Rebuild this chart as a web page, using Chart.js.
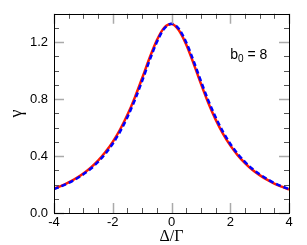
<!DOCTYPE html>
<html><head><meta charset="utf-8">
<script src="https://cdn.jsdelivr.net/npm/chart.js@4.4.0/dist/chart.umd.min.js"></script>
<style>html,body{margin:0;padding:0;background:#fff;}</style>
</head><body>
<canvas id="c" width="307" height="245"></canvas>
<script>
const xValues = [-4,-3.75,-3.5,-3.25,-3,-2.75,-2.5,-2.25,-2,-1.75,-1.5,-1.25,-1,-0.75,-0.5,-0.25,0,0.25,0.5,0.75,1,1.25,1.5,1.75,2,2.25,2.5,2.75,3,3.25,3.5,3.75,4];
const redValues = [0.171,0.191,0.215,0.244,0.278,0.319,0.368,0.428,0.500,0.587,0.690,0.811,0.947,1.088,1.214,1.302,1.328,1.285,1.185,1.052,0.909,0.775,0.658,0.558,0.475,0.407,0.351,0.304,0.266,0.234,0.207,0.185,0.165];
const blueValues = [0.168,0.188,0.211,0.239,0.272,0.311,0.359,0.417,0.487,0.572,0.674,0.793,0.928,1.070,1.200,1.295,1.330,1.295,1.200,1.070,0.928,0.793,0.674,0.572,0.487,0.417,0.359,0.311,0.272,0.239,0.211,0.188,0.168];
const xTicks = [-4,-2,0,2,4];
const yTicks = [0,0.4,0.8,1.2];
const xMinorTicks = [-3.5,-3,-2.5,-1.5,-1,-0.5,0.5,1,1.5,2.5,3,3.5];
const yMinorTicks = [0.1,0.2,0.3,0.5,0.6,0.7,0.9,1.0,1.1,1.3];
const annotation = {x: 2.0, y: 1.08, base: 'b', sub: '0', rest: ' = 8'};

const toPts = ys => xValues.map((x,i)=>({x, y: ys[i]}));

const framePlugin = {
  id: 'frame',
  afterDatasetsDraw(chart) {
    const ctx = chart.ctx;
    const {left,right,top,bottom} = chart.chartArea;
    const xs = chart.scales.x, ys = chart.scales.y;
    ctx.save();
    ctx.lineWidth = 1;
    ctx.strokeStyle = '#555';
    ctx.beginPath();
    xMinorTicks.forEach(v => {
      const p = Math.round(xs.getPixelForValue(v)) + 0.5;
      ctx.moveTo(p, bottom); ctx.lineTo(p, bottom - 5);
      ctx.moveTo(p, top); ctx.lineTo(p, top + 5);
    });
    yMinorTicks.forEach(v => {
      const p = Math.round(ys.getPixelForValue(v)) + 0.5;
      ctx.moveTo(left, p); ctx.lineTo(left + 5, p);
      ctx.moveTo(right, p); ctx.lineTo(right - 5, p);
    });
    ctx.stroke();
    ctx.strokeStyle = '#aaa';
    ctx.lineWidth = 1.5;
    ctx.beginPath();
    xTicks.forEach(v => {
      const p = Math.round(xs.getPixelForValue(v)) + 0.5;
      ctx.moveTo(p, bottom); ctx.lineTo(p, bottom - 10);
      ctx.moveTo(p, top); ctx.lineTo(p, top + 10);
    });
    yTicks.forEach(v => {
      const p = Math.round(ys.getPixelForValue(v)) + 0.5;
      ctx.moveTo(left, p); ctx.lineTo(left + 10, p);
      ctx.moveTo(right, p); ctx.lineTo(right - 10, p);
    });
    ctx.stroke();
    ctx.strokeStyle = '#000';
    ctx.lineWidth = 1;
    ctx.strokeRect(Math.round(left) + 0.5, Math.round(top) + 0.5, Math.round(right - left), Math.round(bottom - top));
    // annotation
    const ax = xs.getPixelForValue(annotation.x), ay = ys.getPixelForValue(annotation.y);
    ctx.fillStyle = '#000';
    ctx.textBaseline = 'alphabetic';
    ctx.textAlign = 'left';
    ctx.font = '14px "Liberation Sans", Arial, sans-serif';
    ctx.fillText(annotation.base, ax, ay);
    let w = ctx.measureText(annotation.base).width;
    ctx.font = '10px "Liberation Sans", Arial, sans-serif';
    ctx.fillText(annotation.sub, ax + w, ay + 3);
    w += ctx.measureText(annotation.sub).width;
    ctx.font = '14px "Liberation Sans", Arial, sans-serif';
    ctx.fillText(annotation.rest, ax + w, ay);
    ctx.restore();
  }
};

new Chart(document.getElementById('c'), {
  type: 'line',
  data: {
    datasets: [
      {data: toPts(redValues), order: 2, borderColor: '#ff1a00', borderWidth: 2.5, pointRadius: 0, fill: false, cubicInterpolationMode: 'monotone'},
      {data: toPts(blueValues), order: 1, borderColor: '#0000ff', borderWidth: 2.5, borderDash: [5,3], pointRadius: 0, fill: false, cubicInterpolationMode: 'monotone'}
    ]
  },
  options: {
    responsive: false,
    animation: false,
    devicePixelRatio: 1,
    layout: {padding: {top: 11, right: 18, left: 0, bottom: 0}},
    plugins: {legend: {display: false}, tooltip: {enabled: false}},
    scales: {
      x: {
        type: 'linear', min: -4, max: 4,
        afterBuildTicks: s => { s.ticks = xTicks.map(v => ({value: v})); },
        afterFit: s => { s.height = 32; },
        grid: {display: false, drawTicks: false}, border: {display: false},
        ticks: {color: '#000', padding: 2, maxRotation: 0, autoSkip: false,
          font: {family: '"Liberation Sans", Arial, sans-serif', size: 13},
          callback: v => String(v)},
        title: {display: true, text: 'Δ/Γ', color: '#000', padding: {top: 0, bottom: 0},
          font: {family: '"Liberation Serif", "Times New Roman", serif', size: 16, lineHeight: 1}}
      },
      y: {
        type: 'linear', min: 0, max: 1.4,
        afterBuildTicks: s => { s.ticks = yTicks.map(v => ({value: v})); },
        afterFit: s => { s.width = 54; },
        grid: {display: false, drawTicks: false}, border: {display: false},
        ticks: {color: '#000', padding: 6, autoSkip: false,
          font: {family: '"Liberation Sans", Arial, sans-serif', size: 13},
          callback: v => Number(v).toFixed(1)},
        title: {display: true, text: 'γ', color: '#000', padding: {top: 8, bottom: 0},
          font: {family: '"Liberation Serif", "Times New Roman", serif', size: 18, lineHeight: 1}}
      }
    }
  },
  plugins: [framePlugin]
});
</script>
</body></html>
